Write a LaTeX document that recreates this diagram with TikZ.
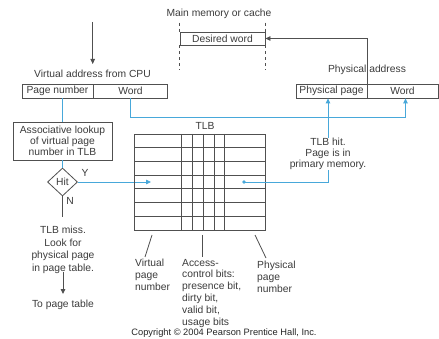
\documentclass[tikz,border=0pt]{standalone}
\usepackage{fontspec}
\setmainfont{Liberation Sans}
\usetikzlibrary{arrows.meta,shapes.geometric,calc}
\definecolor{hitblue}{HTML}{48A8DA}
\definecolor{txt}{HTML}{3C3C3C}
\definecolor{edge}{HTML}{505050}
\begin{document}
\begin{tikzpicture}[x=1pt,y=-1pt,
  lbl/.style={font=\fontsize{10.3}{12}\selectfont, text=txt, inner sep=0pt},
  field/.style={draw=edge, line width=0.8pt, minimum height=14pt, inner sep=0pt, font=\fontsize{10.3}{12}\selectfont, text=txt},
  bl/.style={draw=hitblue, line width=0.8pt},
  bk/.style={draw=edge, line width=0.8pt},
  tip/.style={-{Triangle[length=5pt,width=4.5pt]}},
  btip/.style={-{Triangle[length=5pt,width=4.5pt]}, color=hitblue},
  dashv/.style={draw=edge, line width=0.6pt, dash pattern=on 3pt off 3pt}
]
\useasboundingbox[fill=white] (0,0) rectangle (439,339);

% virtual address
\coordinate (in) at (92.7,22);
\coordinate (inend) at (92.7,64);
\draw[bk,tip] (in) -- (inend);
\node[lbl] (cpu) at (92.5,74) {Virtual address from CPU};
\node[field, minimum width=71pt] (pn) at (57.5,91) {Page number};
\node[field, minimum width=74pt] (vw) at (130.5,91) {Word};

% main memory
\node[lbl] (mm) at (219,14) {Main memory or cache};
\node[field, minimum width=85pt, minimum height=13pt] (dw) at (222.5,38.5) {Desired word};
\draw[dashv] ($(dw.north west)+(0,-9)$) -- (dw.north west);
\draw[dashv] (dw.south west) -- ($(dw.south west)+(0,25)$);
\draw[dashv] ($(dw.north east)+(0,-9)$) -- (dw.north east);
\draw[dashv] (dw.south east) -- ($(dw.south east)+(0,25)$);

% physical address
\node[lbl] (pa) at (367,70) {Physical address};
\node[field, minimum width=71pt] (pp) at (331.5,91) {Physical page};
\node[field, minimum width=71pt] (pw) at (402.5,91) {Word};
\draw[bk,tip] (pp.north east) |- (dw.east);

% lookup
\node[field, minimum width=99pt, minimum height=38pt, align=center, font=\fontsize{10.3}{11.3}\selectfont] (assoc) at (62.5,141) {Associative lookup\\of virtual page\\number in TLB};
\draw[bl] (assoc.north |- pn.south) -- (assoc.north);
\node[diamond, draw=edge, line width=0.8pt, minimum width=30pt, minimum height=28pt, inner sep=0pt, font=\fontsize{10.3}{12}\selectfont, text=txt] (hit) at (62.5,182) {Hit};
\draw[bl] (assoc.south) -- (hit.north);
\node[lbl] (ylab) at (85,173) {Y};
\node[lbl] (nlab) at (70,201) {N};
\coordinate (hitto) at (151,182);
\draw[bl,btip] (hit.east) -- (hitto);

% miss
\coordinate (missend) at (62.5,217);
\draw[bk] (hit.south) -- (missend);
\node[lbl, align=center, anchor=north, font=\fontsize{10.3}{12.5}\selectfont] (miss) at (63,226.3) {TLB miss.\\Look for\\physical page\\in page table.};
\node[lbl] (topage) at (63,305) {To page table};
\coordinate (arrs) at (63,272);
\coordinate (arre) at (63,294);
\draw[bk,line width=0.9pt,tip] (arrs) -- (arre);

% TLB table
\node[draw=edge, line width=0.8pt, minimum width=131pt, minimum height=96pt, inner sep=0pt] (tlb) at (199.5,182) {};
\foreach \k in {1,...,6} \draw[bk] (134,{134+13.714*\k}) -- (265,{134+13.714*\k});
\foreach \xx in {181,192,203,214,224} \draw[bk] (\xx,134) -- (\xx,230);
\node[lbl] (tlblab) at (205,126) {TLB};

% hit path
\node[circle, fill=hitblue, inner sep=0pt, minimum size=3.6pt] (dot) at (244,182) {};
\node[lbl, align=center, font=\fontsize{10.3}{11}\selectfont] (hitnote) at (328,154) {TLB hit.\\Page is in\\primary memory.};
\draw[bl] (dot.center) -| (hitnote.south);
\draw[bl,btip] (hitnote.north) -- (hitnote.north |- pp.south);
\draw[bl,btip] (vw.south) -- ++(0,19) -| ($(pw.south)+(3,0)$);

% leader labels
\node[lbl, align=left, anchor=north west] (vpn) at (135,259.3) {Virtual\\page\\number};
\node[lbl, align=left, anchor=north west, font=\fontsize{10.3}{11.8}\selectfont] (acb) at (182,258.8) {Access-\\control bits:\\presence bit,\\dirty bit,\\valid bit,\\usage bits};
\node[lbl, align=left, anchor=north west] (ppn) at (257,261) {Physical\\page\\number};
\draw[bk] (152,235) -- (145,257);
\draw[bk] (202,235) -- (202,257);
\draw[bk] (255,235) -- (266,258);

\node[font=\fontsize{9.3}{11}\selectfont, text=black!85, inner sep=0pt] (copy) at (224,333.2) {Copyright © 2004 Pearson Prentice Hall, Inc.};
\end{tikzpicture}
\end{document}
